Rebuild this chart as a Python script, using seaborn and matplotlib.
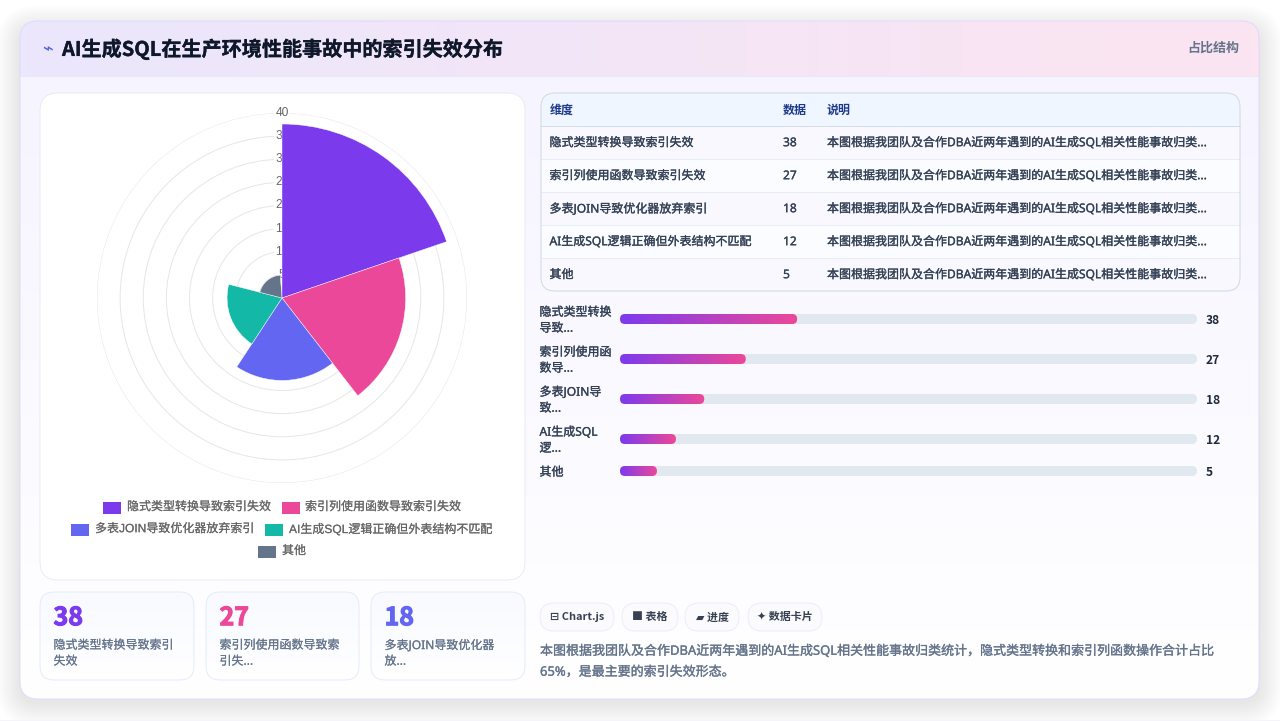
"""
Index failure breakdown dashboard: polar area chart, table, progress bars, stat cards.
"""

import numpy as np
import pandas as pd
import matplotlib.pyplot as plt
import matplotlib.patheffects as pe
import seaborn as sns
from matplotlib.colors import LinearSegmentedColormap
from matplotlib.patches import FancyBboxPatch, Rectangle

# Data
categories = ['隐式类型转换导致索引失效', '索引列使用函数导致索引失效', '多表JOIN导致优化器放弃索引',
              'AI生成SQL逻辑正确但外表结构不匹配', '其他']
values = [38, 27, 18, 12, 5]
colors = ['#7c3aed', '#ec4899', '#6366f1', '#14b8a6', '#64748b']
radial_ticks = [5, 10, 15, 20, 25, 30, 35, 40]
bar_labels = [['隐式类型转换', '导致...'], ['索引列使用函', '数导...'], ['多表JOIN导', '致...'],
              ['AI生成SQL', '逻...'], ['其他']]
bar_share = [30.7, 21.8, 14.6, 9.7, 6.4]
table_header = ['维度', '数据', '说明']
row_note = '本图根据我团队及合作DBA近两年遇到的AI生成SQL相关性能事故归类...'
chips = ['⊟ Chart.js', '■ 表格', '▰ 进度', '✦ 数据卡片']
card_labels = [['隐式类型转换导致索引', '失效'], ['索引列使用函数导致索', '引失...'], ['多表JOIN导致优化器', '放...']]
title = 'AI生成SQL在生产环境性能事故中的索引失效分布'
summary = ['本图根据我团队及合作DBA近两年遇到的AI生成SQL相关性能事故归类统计，隐式类型转换和索引列函数操作合计占比',
           '65%，是最主要的索引失效形态。']

W, H = 1280, 721
FONT = ['Noto Sans', 'Noto Sans CJK SC', 'DejaVu Sans']
BOLD_FONT = ['Noto Sans CJK SC', 'DejaVu Sans']
CHART_FONT = ['Liberation Sans', 'Noto Sans CJK SC', 'DejaVu Sans']
# the screenshot catches the chart animation just before it settles
SWEEP_DEG = 71.1
GROW = 0.99


def px(n):
    """Convert CSS pixels to points at dpi 100."""
    return n * 0.72


def round_box(ax, x0, y0, x1, y1, r, fc='none', ec='none', lw=1.0, z=1, alpha=None):
    box = FancyBboxPatch((x0, y0), x1 - x0, y1 - y0, boxstyle=f'round,pad=0,rounding_size={r}',
                         fc=fc, ec=ec, lw=lw, zorder=z, alpha=alpha)
    ax.add_patch(box)
    return box


def gradient(ax, extent, c0, c1, clip, z=1, horizontal=True):
    cmap = LinearSegmentedColormap.from_list('g', [c0, c1])
    ramp = np.linspace(0, 1, 256)
    ramp = ramp.reshape(1, -1) if horizontal else ramp.reshape(-1, 1)
    im = ax.imshow(ramp, extent=extent, cmap=cmap, aspect='auto', zorder=z, interpolation='bilinear')
    im.set_clip_path(clip)
    return im


def label(ax, x, y, s, size=12, color='#334155', weight='normal', ha='left', z=6, stroke=0.2, font=FONT):
    txt = ax.text(x, y + 0.7, s, fontsize=px(size), color=color, fontweight=weight, ha=ha, va='center',
                  family=font, zorder=z)
    if stroke:
        txt.set_path_effects([pe.withStroke(linewidth=stroke, foreground=color)])
    return txt


def axes_at(fig, x0, y0, x1, y1, **kw):
    return fig.add_axes([x0 / W, 1 - y1 / H, (x1 - x0) / W, (y1 - y0) / H], **kw)


def draw_shell(ax):
    # soft page shadow
    for grow in range(1, 25):
        round_box(ax, 20 - grow, 21 - grow + 8, 1259 + grow, 699 + grow + 4, 18 + grow,
                  fc='#0f172a', z=0.1, alpha=0.0028)
    ax.add_patch(Rectangle((0, 719.5), W, 2, fc='#f5f5f9', ec='none', zorder=0.2))

    card = round_box(ax, 20, 21, 1259, 699, 18, fc='white', z=0.5)
    gradient(ax, (20, 1259, 699, 21), '#f5f3ff', '#ffffff', card, z=0.6, horizontal=False)
    gradient(ax, (20, 1259, 76, 21), '#ebe7fc', '#fce4f1', card, z=0.7)
    ax.plot([20, 1259], [76, 76], color='#e9e7f8', lw=0.7, zorder=0.8)
    round_box(ax, 20, 21, 1259, 699, 18, ec='#ddd6fe', lw=0.6, z=0.9)

    label(ax, 47, 49, '⌁', size=18, color='#4f63d8', ha='center', stroke=0)
    label(ax, 62, 48.5, title, size=20.1, color='#0f172a', weight='bold', font=BOLD_FONT)
    label(ax, 1239, 47.5, '占比结构', size=13, color='#64748b', weight='bold', ha='right', stroke=0,
          font=BOLD_FONT)

    # panel behind the polar chart
    round_box(ax, 40, 93, 525, 580, 18, fc='white', ec='#e6e9f2', lw=0.6, z=1)


def draw_polar(fig):
    cx, cy, radius = 282, 298, 185
    ax = axes_at(fig, cx - radius, cy - radius, cx + radius, cy + radius, projection='polar')
    ax.patch.set_visible(False)
    ax.set_theta_zero_location('N')
    ax.set_theta_direction(-1)

    step = np.deg2rad(SWEEP_DEG)
    df = pd.DataFrame({'theta': step * np.arange(len(values)) + step / 2,
                       'value': np.array(values) * GROW, 'category': categories})
    sns.barplot(data=df, x='theta', y='value', hue='category', hue_order=categories,
                palette=colors, native_scale=True, dodge=False, width=1, legend=False,
                edgecolor='white', linewidth=0.3, saturation=1, ax=ax, zorder=3)

    ax.set_xlim(0, 2 * np.pi)
    ax.set_ylim(0, radial_ticks[-1])
    ax.set_xticks([])
    ax.set_yticks(radial_ticks)
    ax.set_yticklabels([])
    ax.set_xlabel('')
    ax.set_ylabel('')
    ax.grid(True, axis='y', color='#e6e6e6', lw=0.7, zorder=1)
    ax.set_axisbelow(True)
    ax.spines['polar'].set_visible(False)
    for tick in radial_ticks:
        ax.text(0, tick, str(tick), fontsize=px(12), color='#666666', ha='center', va='center',
                family='Liberation Sans', zorder=2,
                bbox=dict(fc='white', ec='none', pad=1.0))


def draw_legend(ax):
    rows = [((103, 507, 127), 0), ((282, 507, 305), 1), ((71, 529, 95), 2),
            ((265, 529, 289), 3), ((258, 551, 282), 4)]
    for (box_x, y, text_x), i in rows:
        ax.add_patch(Rectangle((box_x, y - 5.5), 18, 12, fc=colors[i], ec='none', zorder=3))
        label(ax, text_x, y - 0.5, categories[i], color='#666666', font=CHART_FONT, stroke=0.1)


def draw_table(ax):
    x0, x1, top, header_bottom, row_h = 541, 1240, 93, 126, 33
    bottom = header_bottom + row_h * len(values)
    frame = round_box(ax, x0, top, x1, bottom, 14, fc='#f9f9ff', z=1)
    head = Rectangle((x0, top), x1 - x0, header_bottom - top, fc='#eff6ff', ec='none', zorder=1.1)
    ax.add_patch(head)
    head.set_clip_path(frame)
    ax.plot([x0, x1], [header_bottom, header_bottom], color='#d3dce8', lw=0.7, zorder=1.3)
    for x, s in zip([550, 783, 827], table_header):
        label(ax, x, 109.5, s, color='#1e3a8a', weight='bold', stroke=0, font=BOLD_FONT)
    for i, (name, val) in enumerate(zip(categories, values)):
        y = header_bottom + row_h * i
        row = Rectangle((x0, y), x1 - x0, row_h, fc='#f8f8fe' if i % 2 == 0 else '#fbfcff',
                        ec='none', zorder=1.2)
        ax.add_patch(row)
        row.set_clip_path(frame)
        if i:
            ax.plot([x0, x1], [y, y], color='#e5e9f1', lw=0.6, zorder=1.3)
        label(ax, 549.5, y + 16, name)
        label(ax, 783, y + 16, str(val))
        label(ax, 827, y + 16, row_note)
    round_box(ax, x0, top, x1, bottom, 14, ec='#cfd8e4', lw=0.7, z=1.4)


def draw_progress(fig, ax):
    centers = [319, 359, 399, 439, 471]
    left, right, height = 620, 1197, 10
    for i, (lines, share, val, cy) in enumerate(zip(bar_labels, bar_share, values, centers)):
        row = axes_at(fig, left, cy - height / 2, right, cy + height / 2)
        row.patch.set_visible(False)
        sns.barplot(x=[share], y=[categories[i]], orient='h', width=1, color='#7c3aed',
                    ax=row)
        bar = row.patches[0]
        share_width = bar.get_width()
        bar.set_visible(False)
        aspect = (1 / height) / (100 / (right - left))
        radius = (height / 2) * 100 / (right - left)
        for width, color, z in [(100, '#e2e8f0', 1), (share_width, 'none', 2)]:
            box = FancyBboxPatch((0, -0.5), width, 1, boxstyle=f'round,pad=0,rounding_size={radius}',
                                 mutation_aspect=aspect, fc=color, ec='none', zorder=z)
            row.add_patch(box)
        gradient(row, (0, share_width, 0.5, -0.5), '#7c3aed', '#ec4899', box, z=3)
        row.set_xlim(0, 100)
        row.set_ylim(0.5, -0.5)
        row.axis('off')

        if len(lines) == 2:
            label(ax, 539.5, cy - 7.5, lines[0])
            label(ax, 539.5, cy + 8.5, lines[1])
        else:
            label(ax, 539.5, cy + 0.5, lines[0])
        label(ax, 1206, cy + 0.5, str(val), color='#1e293b', weight='bold', stroke=0, font=BOLD_FONT)


def draw_cards(ax):
    spans = [(40, 194), (206, 359), (371, 525)]
    for i, (x0, x1) in enumerate(spans):
        card = round_box(ax, x0, 592, x1, 680, 14, fc='white', z=1)
        gradient(ax, (x0, x1, 680, 592), '#f8faff', '#ffffff', card, z=1.1, horizontal=False)
        round_box(ax, x0, 592, x1, 680, 14, ec='#dfe9f6', lw=0.6, z=1.2)
        label(ax, x0 + 13.5, 617.5, str(values[i]), size=25, color=colors[i], weight='bold', stroke=0.8,
              font=BOLD_FONT)
        label(ax, x0 + 13.5, 644.5, card_labels[i][0], color='#64748b', stroke=0.1)
        label(ax, x0 + 13.5, 660.5, card_labels[i][1], color='#64748b', stroke=0.1)


def draw_footer(ax):
    spans = [(540, 614), (622, 678), (685, 739), (748, 822)]
    for (x0, x1), chip in zip(spans, chips):
        round_box(ax, x0, 603, x1, 631, 14, fc='#fbfbfe', ec='#e7ebf2', lw=0.6, z=1)
        label(ax, (x0 + x1) / 2, 616.5, chip, size=11, color='#374151', weight='bold', ha='center', stroke=0,
              font=BOLD_FONT)
    label(ax, 540, 650.5, summary[0], size=13, color='#64748b')
    label(ax, 540, 671.5, summary[1], size=13, color='#64748b')


def main():
    sns.set_theme(style='white')
    plt.rcParams['font.family'] = FONT

    fig = plt.figure(figsize=(W / 100, H / 100), dpi=100, facecolor='white')
    canvas = fig.add_axes([0, 0, 1, 1], zorder=0)
    canvas.set_xlim(0, W)
    canvas.set_ylim(H, 0)

    draw_shell(canvas)
    draw_legend(canvas)
    draw_table(canvas)
    draw_cards(canvas)
    draw_footer(canvas)
    draw_polar(fig)
    draw_progress(fig, canvas)

    canvas.set_xlim(0, W)
    canvas.set_ylim(H, 0)
    canvas.axis('off')

    fig.savefig('out.png', dpi=100)
    plt.close(fig)


if __name__ == '__main__':
    main()
